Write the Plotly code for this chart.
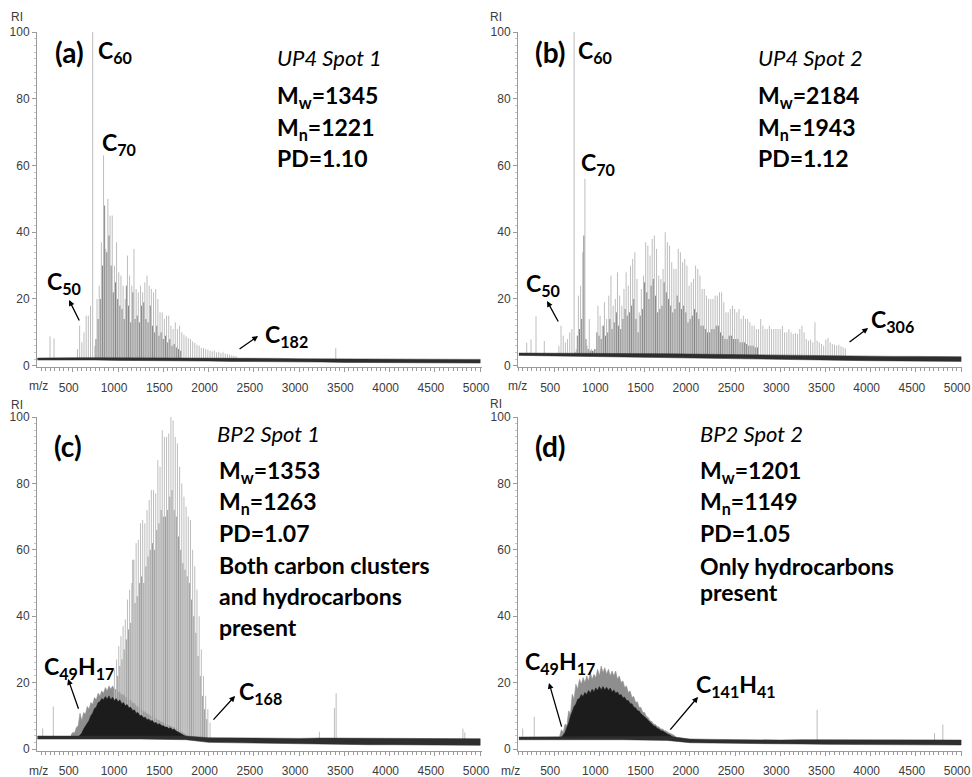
import numpy as np
import plotly.graph_objects as go

# ---------------------------------------------------------------- common
MZ_TICKS = [500, 1000, 1500, 2000, 2500, 3000, 3500, 4000, 4500, 5000]
RI_TICKS = [0, 20, 40, 60, 80, 100]

# m/z positions at which the noisy baseline band is sampled
BL_MZ = [110, 250, 500, 750, 1000, 1250, 1500, 1750, 2000, 2250, 2500,
         2750, 3000, 3250, 3500, 3750, 4000, 4250, 4500, 4750, 5000]

# ---------------------------------------------------------------- (a) UP4 spot 1
A_N = list(range(46, 194, 2))          # carbon number of C_n cluster ions
A_H = [5, 12, 7, 10, 15, 15, 18, 100, 6, 20,
       24, 37, 63, 35, 50, 45, 45, 30, 37, 28,
       27, 24, 20, 33, 27, 24, 35, 23, 22, 24,
       22, 25, 27, 24, 23, 22, 23, 20, 16, 16,
       14, 15, 15, 12, 11, 13, 11, 12, 10, 9.3,
       8.8, 8.3, 8, 7.3, 6.8, 6.3, 6, 5.3, 5.3, 5,
       4.8, 4.5, 4.3, 4.5, 4, 4.2, 3.8, 4, 3.6, 3.5,
       3.3, 3.1, 3, 2.9]
A_DARK_N = list(range(63, 143, 2))
A_DARK_H = [8, 14, 20, 30, 48, 34, 39, 30, 22, 25,
            20, 18, 17, 14, 24, 18, 13, 22, 14, 15,
            13, 18, 19, 14, 13, 18, 12, 10, 12, 9,
            10, 8, 9, 7, 8, 6, 6.5, 5.5, 5, 4.5]
A_SPIKE_MZ = [249, 293, 3405]
A_SPIKE_H = [8.8, 8.2, 5.3]
A_BL_LO = [1.7, 1.7, 1.7, 1.7, 1.6, 1.6, 1.5, 1.4, 1.4, 1.3, 1.2,
           1.2, 1.1, 1.1, 1.0, 1.0, 0.9, 0.9, 0.9, 0.8, 0.8]
A_BL_HI = [2.3, 2.4, 2.4, 2.4, 2.4, 2.4, 2.3, 2.3, 2.3, 2.2, 2.2,
           2.2, 2.1, 2.1, 2.1, 2.0, 2.0, 2.0, 2.0, 1.9, 1.9]

# ---------------------------------------------------------------- (b) UP4 spot 2
B_N = list(range(46, 312, 2))
B_H = [6, 12, 9, 7, 8, 10, 11, 100, 5, 21,
       24, 34, 56, 6, 14, 5, 4.5, 5, 18, 15,
       12, 19, 14, 21, 27, 18, 20, 28, 21, 18,
       23, 28, 24, 30, 32, 34, 26, 16, 23, 27,
       37, 36, 33, 38, 39, 35, 27, 26, 29, 40,
       37, 36, 31, 29, 29, 35, 34, 31, 32, 30,
       24, 25, 26, 30, 29, 27, 23, 23, 21, 20,
       20, 20, 21, 21, 22, 22, 19, 16, 16, 17,
       18, 17, 16, 17, 14, 15, 14, 14, 13, 12,
       12, 11, 11, 14, 12, 11, 11, 12, 11, 11,
       11, 11, 11, 12, 10, 10, 11, 10, 9.5, 9.8,
       9.5, 11, 12, 10, 8, 7.5, 7.8, 7, 13, 7.5,
       7, 6.5, 6, 7.8, 8.3, 7, 6.5, 6.3, 6, 6.3,
       5.8, 5.5, 5.2]
B_DARK_N = list(range(61, 231, 2))
B_DARK_H = [4, 9, 11, 14, 39, 8, 5, 4.5, 4.5, 5,
            10, 9, 8, 12, 9, 10, 14, 11, 13, 16,
            12, 11, 14, 17, 15, 16, 18, 20, 14, 10,
            15, 17, 25, 22, 20, 24, 26, 21, 16, 17,
            18, 25, 22, 20, 18, 16, 17, 21, 19, 17,
            18, 16, 13, 14, 15, 17, 16, 14, 12, 12,
            11, 10, 10, 11, 11, 12, 12, 10, 9, 8,
            8, 9, 9, 8, 8, 8, 7, 7, 7, 6.5,
            6, 6, 6, 5.5, 5.5]
B_SPIKE_MZ = [196, 244, 299, 391]
B_SPIKE_H = [6.9, 7.9, 14.8, 7.4]
B_BL_LO = [3.1, 3.1, 3.1, 3.0, 2.9, 2.8, 2.7, 2.6, 2.5, 2.3, 2.2,
           2.1, 1.9, 1.8, 1.7, 1.6, 1.5, 1.4, 1.4, 1.3, 1.3]
B_BL_HI = [3.8, 3.8, 3.8, 3.8, 3.7, 3.7, 3.6, 3.6, 3.5, 3.4, 3.4,
           3.3, 3.2, 3.1, 3.0, 3.0, 2.9, 2.8, 2.8, 2.7, 2.7]

# ---------------------------------------------------------------- (c) BP2 spot 1
C_N = list(range(80, 170, 2))
C_H = [24, 27, 31, 34, 37, 39, 45, 48, 50, 57,
       62, 63, 68, 69, 68, 72, 75, 78, 78, 77,
       87, 85, 96, 94, 94, 95, 100, 99, 94, 92,
       85, 80, 76, 73, 70, 69, 60, 55, 48, 40,
       30, 22, 16, 12, 8]
C_DARK_N = list(range(81, 167, 2))
C_DARK_H = [18, 22, 25, 27, 30, 33, 36, 38, 57, 44,
            46, 50, 52, 50, 55, 58, 60, 62, 60, 66,
            68, 72, 70, 70, 72, 76, 78, 72, 70, 64,
            60, 56, 54, 52, 50, 45, 40, 35, 28, 22,
            16, 12, 9]
# hydrocarbon envelopes: grey outer fringe and black core
C_HC_GREY_MZ = list(range(480, 1800, 20))
C_HC_GREY = [4.2, 5.0, 4.8, 6.5, 7.0, 10.8, 8.5, 11.0, 10.5, 12.8,
             12.0, 14.0, 13.5, 15.5, 14.8, 16.8, 16.0, 17.5, 16.8, 18.5,
             17.5, 19.0, 18.0, 19.0, 17.8, 18.0, 17.0, 17.2, 16.2, 16.5,
             15.5, 15.5, 14.5, 14.8, 13.8, 13.8, 12.8, 12.8, 12.0, 12.0,
             11.2, 11.2, 10.5, 10.5, 9.8, 9.8, 9.2, 9.2, 8.6, 8.6,
             8.0, 8.0, 7.5, 7.5, 7.0, 7.0, 6.5, 6.5, 6.0, 6.0,
             5.5, 5.2, 4.8, 4.5, 4.2, 3.8]
C_HC_DARK_MZ = list(range(560, 1780, 20))
C_HC_DARK = [3.6, 4.2, 4.8, 6.0, 6.8, 8.0, 8.6, 10.0, 10.8, 12.2,
             12.6, 14.0, 14.2, 15.2, 14.8, 15.8, 15.0, 16.0, 14.8, 15.6,
             14.6, 15.2, 14.2, 14.8, 13.6, 14.0, 13.0, 13.4, 12.4, 12.6,
             11.6, 11.8, 10.8, 11.0, 10.0, 10.2, 9.4, 9.6, 8.8, 9.0,
             8.4, 8.6, 7.8, 8.0, 7.4, 7.6, 7.0, 7.0, 6.6, 6.6,
             6.2, 6.4, 5.8, 6.0, 5.4, 5.2, 4.8, 4.5, 4.2, 3.9,
             3.6]
C_SPIKE_MZ = [168, 285, 3224, 3390, 3409, 4809, 4830]
C_SPIKE_H = [6.2, 12.8, 5.2, 12.4, 16.8, 6.1, 5.0]
C_BL_LO = [3.0, 3.0, 3.0, 3.0, 3.0, 3.0, 3.0, 2.8, 2.0, 1.8, 1.7,
           1.6, 1.5, 1.5, 1.4, 1.3, 1.3, 1.2, 1.2, 1.2, 1.1]
C_BL_HI = [3.9, 3.9, 3.9, 4.0, 4.0, 4.0, 4.0, 3.9, 3.4, 3.3, 3.2,
           3.2, 3.2, 3.3, 3.3, 3.3, 3.3, 3.2, 3.2, 3.3, 3.1]

# ---------------------------------------------------------------- (d) BP2 spot 2
D_HC_GREY_MZ = list(range(560, 1860, 20))
D_HC_GREY = [3.8, 5.8, 5.0, 7.5, 7.0, 11.5, 10.5, 16.5, 15.0, 19.5,
             18.0, 21.0, 19.5, 21.5, 20.0, 22.0, 20.5, 23.0, 21.0, 22.5,
             21.5, 24.0, 22.0, 25.0, 23.0, 24.5, 22.5, 24.0, 22.0, 23.5,
             22.0, 23.5, 21.0, 22.0, 20.0, 20.5, 18.5, 19.0, 17.0, 17.5,
             15.5, 15.8, 14.0, 14.2, 12.5, 12.5, 11.0, 11.0, 9.8, 9.5,
             8.5, 8.3, 7.5, 7.4, 6.8, 6.6, 6.0, 6.0, 5.5, 5.4,
             5.0, 4.8, 4.4, 4.2, 3.8]
D_HC_DARK_MZ = list(range(580, 1840, 20))
D_HC_DARK = [3.4, 4.2, 5.0, 6.5, 7.8, 9.8, 11.2, 12.8, 13.5, 15.0,
             15.2, 16.4, 15.8, 17.0, 16.4, 17.6, 16.8, 18.0, 17.2, 18.4,
             17.6, 18.8, 17.8, 18.8, 17.8, 18.6, 17.6, 18.4, 17.2, 17.8,
             16.8, 17.2, 16.2, 16.4, 15.4, 15.6, 14.6, 14.6, 13.6, 13.6,
             12.6, 12.4, 11.6, 11.4, 10.6, 10.2, 9.6, 9.2, 8.6, 8.0,
             7.6, 7.0, 6.8, 6.2, 6.0, 5.5, 5.4, 5.0, 4.8, 4.4,
             4.2, 3.8, 3.4]
D_SPIKE_MZ = [152, 280, 3408, 4706, 4798]
D_SPIKE_H = [6.2, 9.7, 11.8, 4.8, 7.4]
D_BL_LO = [2.8, 2.8, 2.8, 2.8, 2.8, 2.8, 2.8, 2.6, 1.9, 1.8, 1.7,
           1.6, 1.5, 1.5, 1.4, 1.4, 1.3, 1.3, 1.2, 1.2, 1.2]
D_BL_HI = [3.6, 3.6, 3.6, 3.7, 3.8, 3.8, 3.8, 3.9, 3.0, 2.9, 2.8,
           2.8, 2.7, 2.8, 2.8, 2.8, 2.7, 2.7, 2.7, 2.8, 2.7]

# ---------------------------------------------------------------- styling
LIGHT = "#bdbdbd"
DARK = "#858585"
DARK_C = "#9c9c9c"
AXIS = "#9a9a9a"
TICK_FONT = dict(family="Liberation Sans, Arial, sans-serif", size=12, color="#3c3c3c")
TEXT_FONT = "Lato, 'Open Sans', sans-serif"

fig = go.Figure()


def baseline_mid(lo, hi, mz):
    mid = [(a + b) / 2 for a, b in zip(lo, hi)]
    return np.interp(mz, BL_MZ, mid)


def add_sticks(xa, ya, mz, h, lo, hi, color, width=1.0):
    base = baseline_mid(lo, hi, mz)
    xs, ys = [], []
    for m, top, b in zip(mz, h, base):
        xs += [m, m, None]
        ys += [b, top, None]
    fig.add_trace(go.Scatter(x=xs, y=ys, mode="lines", xaxis=xa, yaxis=ya,
                             line=dict(color=color, width=width),
                             hoverinfo="skip", showlegend=False))


def add_area(xa, ya, mz, top, lo, hi, color):
    base = baseline_mid(lo, hi, mz)
    xs = list(mz) + list(mz[::-1])
    ys = list(top) + list(base[::-1])
    fig.add_trace(go.Scatter(x=xs, y=ys, mode="lines", fill="toself",
                             fillcolor=color, line=dict(color=color, width=0.6),
                             xaxis=xa, yaxis=ya, hoverinfo="skip", showlegend=False))


def add_baseline(xa, ya, lo, hi):
    xs = BL_MZ + BL_MZ[::-1]
    ys = hi + lo[::-1]
    fig.add_trace(go.Scatter(x=xs, y=ys, mode="lines", fill="toself",
                             fillcolor="#2e2e2e", line=dict(color="#2e2e2e", width=0.5),
                             xaxis=xa, yaxis=ya, hoverinfo="skip", showlegend=False))


def mz_of(ns):
    return [12 * n for n in ns]


# (a)
add_sticks("x", "y", mz_of(A_N), A_H, A_BL_LO, A_BL_HI, LIGHT)
add_sticks("x", "y", mz_of(A_DARK_N), A_DARK_H, A_BL_LO, A_BL_HI, DARK)
add_sticks("x", "y", A_SPIKE_MZ, A_SPIKE_H, A_BL_LO, A_BL_HI, LIGHT)
add_baseline("x", "y", A_BL_LO, A_BL_HI)

# (b)
add_sticks("x2", "y2", mz_of(B_N), B_H, B_BL_LO, B_BL_HI, LIGHT)
add_sticks("x2", "y2", mz_of(B_DARK_N), B_DARK_H, B_BL_LO, B_BL_HI, DARK)
add_sticks("x2", "y2", B_SPIKE_MZ, B_SPIKE_H, B_BL_LO, B_BL_HI, LIGHT)
add_baseline("x2", "y2", B_BL_LO, B_BL_HI)

# (c)
add_area("x3", "y3", C_HC_GREY_MZ, C_HC_GREY, C_BL_LO, C_BL_HI, "#8e8e8e")
add_sticks("x3", "y3", mz_of(C_N), C_H, C_BL_LO, C_BL_HI, LIGHT)
add_sticks("x3", "y3", mz_of(C_DARK_N), C_DARK_H, C_BL_LO, C_BL_HI, DARK_C)
add_area("x3", "y3", C_HC_DARK_MZ, C_HC_DARK, C_BL_LO, C_BL_HI, "#1c1c1c")
add_sticks("x3", "y3", C_SPIKE_MZ, C_SPIKE_H, C_BL_LO, C_BL_HI, LIGHT)
add_baseline("x3", "y3", C_BL_LO, C_BL_HI)

# (d)
add_area("x4", "y4", D_HC_GREY_MZ, D_HC_GREY, D_BL_LO, D_BL_HI, "#8e8e8e")
add_area("x4", "y4", D_HC_DARK_MZ, D_HC_DARK, D_BL_LO, D_BL_HI, "#1c1c1c")
add_sticks("x4", "y4", D_SPIKE_MZ, D_SPIKE_H, D_BL_LO, D_BL_HI, LIGHT)
add_baseline("x4", "y4", D_BL_LO, D_BL_HI)


# ---------------------------------------------------------------- axes
W, H = 972, 777


def xdom(left, right):
    return [left / W, right / W]


def ydom(top, bottom):
    return [1 - bottom / H, 1 - top / H]


def xaxis(domain, rng, anchor):
    return dict(domain=domain, range=rng, anchor=anchor, showline=True,
                linecolor=AXIS, linewidth=1, ticks="outside", ticklen=4,
                tickcolor=AXIS, tickvals=MZ_TICKS, ticktext=[str(t) for t in MZ_TICKS],
                tickfont=TICK_FONT, ticklabelstandoff=5, ticklabelshift=-4,
                automargin=False, ticklabeloverflow="allow",
                minor=dict(ticks="outside", ticklen=3, dtick=50, tick0=0,
                           tickcolor=AXIS, showgrid=False),
                showgrid=False, zeroline=False, fixedrange=True)


def yaxis(domain, rng, anchor):
    return dict(domain=domain, range=rng, anchor=anchor, showline=True,
                linecolor=AXIS, linewidth=1, ticks="outside", ticklen=4,
                tickcolor=AXIS, tickvals=RI_TICKS, tickfont=TICK_FONT,
                automargin=False, ticklabeloverflow="allow",
                minor=dict(ticks="outside", ticklen=2, dtick=2, tick0=0,
                           tickcolor="#c4c4c4", showgrid=False),
                showgrid=False, zeroline=False, fixedrange=True)


X_LEFT = xdom(37, 482)
X_RIGHT = xdom(518, 962)
Y_TOP = ydom(32, 367.4)
Y_BOT = ydom(417, 751)

fig.update_layout(
    width=W, height=H, margin=dict(l=0, r=0, t=0, b=0, pad=0), autosize=False,
    paper_bgcolor="white", plot_bgcolor="white", showlegend=False,
    xaxis=xaxis(X_LEFT, [105, 5020], "y"),
    yaxis=yaxis(Y_TOP, [-0.5, 100], "x"),
    xaxis2=xaxis(X_RIGHT, [100, 5010], "y2"),
    yaxis2=yaxis(Y_TOP, [-0.5, 100], "x2"),
    xaxis3=xaxis(X_LEFT, [105, 5020], "y3"),
    yaxis3=yaxis(Y_BOT, [-0.6, 100], "x3"),
    xaxis4=xaxis(X_RIGHT, [100, 5010], "y4"),
    yaxis4=yaxis(Y_BOT, [-0.6, 100], "x4"),
)

# ---------------------------------------------------------------- text
ann = []


def paper_text(px, py, text):
    ann.append(dict(x=px / W, y=1 - py / H, xref="paper", yref="paper",
                    text=text, showarrow=False, xanchor="center", yanchor="middle",
                    font=TICK_FONT))


def label(xa, ya, m, v, text, size=23, italic=False, bold=True):
    t = text
    if bold:
        t = "<b>" + t + "</b>"
    if italic:
        t = "<i>" + t + "</i>"
    ann.append(dict(x=m, y=v, xref=xa, yref=ya, text=t, showarrow=False,
                    xanchor="left", yanchor="middle",
                    font=dict(family=TEXT_FONT, size=size, color="black")))


def arrow(xa, ya, head, tail):
    ann.append(dict(x=head[0], y=head[1], ax=tail[0], ay=tail[1],
                    xref=xa, yref=ya, axref=xa, ayref=ya, text="",
                    showarrow=True, arrowhead=2, arrowsize=0.9, arrowwidth=1.3,
                    arrowcolor="black"))


# axis captions
for px, py in [(38, 386.5), (517, 386.5), (38, 771), (511, 771)]:
    paper_text(px, py, "m/z")
for px, py in [(17, 17), (496, 17), (17, 405), (496, 404)]:
    paper_text(px, py, "RI")

# (a)
label("x", "y", 282, 94.1, "(a)", size=28)
label("x", "y", 757, 94.1, "C<sub>60</sub>")
label("x", "y", 801, 66.5, "C<sub>70</sub>")
label("x", "y", 2735, 92.3, "UP4 Spot 1", size=22, italic=True, bold=False)
label("x", "y", 2735, 80.6, "M<sub>w</sub>=1345")
label("x", "y", 2735, 71.0, "M<sub>n</sub>=1221")
label("x", "y", 2735, 62.3, "PD=1.10")
label("x", "y", 193, 24.8, "C<sub>50</sub>")
arrow("x", "y", (459, 19.7), (580, 13.1))
label("x", "y", 2602, 9.2, "C<sub>182</sub>")
arrow("x", "y", (2547, 8.9), (2326, 4.7))

# (b)
label("x2", "y2", 266, 94.1, "(b)", size=28)
label("x2", "y2", 742, 94.1, "C<sub>60</sub>")
label("x2", "y2", 775, 60.5, "C<sub>70</sub>")
label("x2", "y2", 2733, 92.3, "UP4 Spot 2", size=22, italic=True, bold=False)
label("x2", "y2", 2733, 80.6, "M<sub>w</sub>=2184")
label("x2", "y2", 2733, 71.0, "M<sub>n</sub>=1943")
label("x2", "y2", 2733, 62.3, "PD=1.12")
label("x2", "y2", 166, 24.2, "C<sub>50</sub>")
arrow("x2", "y2", (421, 19.4), (554, 12.8))
label("x2", "y2", 3983, 13.7, "C<sub>306</sub>")
arrow("x2", "y2", (3972, 11.3), (3750, 6.8))

# (c)
label("x3", "y3", 271, 91.3, "(c)", size=28)
label("x3", "y3", 2072, 94.9, "BP2 Spot 1", size=22, italic=True, bold=False)
label("x3", "y3", 2094, 83.7, "M<sub>w</sub>=1353")
label("x3", "y3", 2094, 74.1, "M<sub>n</sub>=1263")
label("x3", "y3", 2094, 65.1, "PD=1.07")
label("x3", "y3", 2094, 55.4, "Both carbon clusters")
label("x3", "y3", 2094, 46.1, "and hydrocarbons")
label("x3", "y3", 2094, 36.7, "present")
label("x3", "y3", 160, 24.7, "C<sub>49</sub>H<sub>17</sub>")
arrow("x3", "y3", (448, 21.1), (569, 11.7))
label("x3", "y3", 2315, 16.9, "C<sub>168</sub>")
arrow("x3", "y3", (2293, 16.0), (2039, 8.4))

# (d)
label("x4", "y4", 266, 91.3, "(d)", size=28)
label("x4", "y4", 2091, 94.9, "BP2 Spot 2", size=22, italic=True, bold=False)
label("x4", "y4", 2091, 83.7, "M<sub>w</sub>=1201")
label("x4", "y4", 2091, 74.1, "M<sub>n</sub>=1149")
label("x4", "y4", 2091, 65.1, "PD=1.05")
label("x4", "y4", 2091, 55.1, "Only hydrocarbons")
label("x4", "y4", 2091, 47.3, "present")
label("x4", "y4", 155, 26.2, "C<sub>49</sub>H<sub>17</sub>")
arrow("x4", "y4", (443, 19.9), (587, 6.3))
label("x4", "y4", 2047, 19.0, "C<sub>141</sub>H<sub>41</sub>")
arrow("x4", "y4", (2091, 15.7), (1770, 5.4))

fig.update_layout(annotations=ann)
fig.write_html("out.html")
